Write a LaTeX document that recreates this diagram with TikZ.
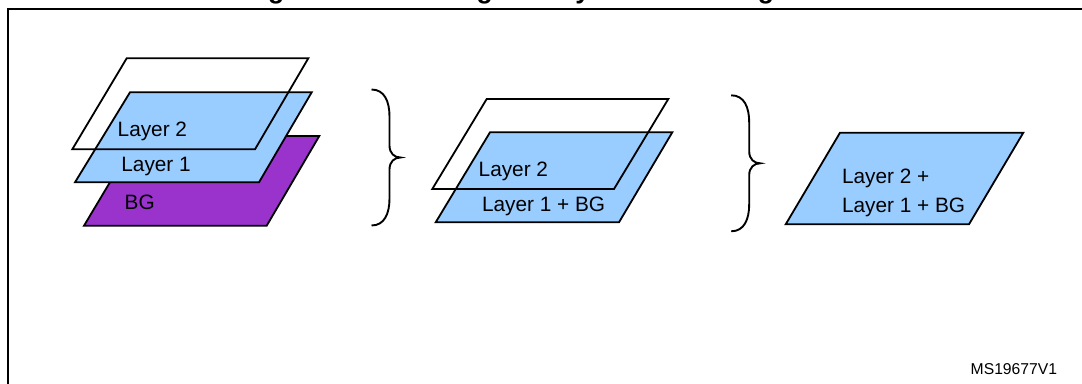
\documentclass[tikz,border=0pt]{standalone}
\usepackage{fontspec}
\setmainfont{Liberation Sans}
\definecolor{layerblue}{HTML}{99CCFF}
\definecolor{bgpurple}{HTML}{9933CC}
\tikzset{
  plane/.style={draw=black, line width=1.8pt, line join=miter},
  lbl/.style={anchor=base west, inner sep=0pt, font=\fontsize{20.8}{25}\selectfont},
  curlybrace/.pic={
    \draw[line width=1.9pt] (-29,-68) .. controls (-16,-68) and (-11,-56) .. (-11,-41)
      -- (-11,-12) .. controls (-11,-4) and (-6,0) .. (0,0)
      .. controls (-6,0) and (-11,4) .. (-11,12)
      -- (-11,41) .. controls (-11,56) and (-16,68) .. (-29,68);
  }
}
\begin{document}
\begin{tikzpicture}[x=1pt,y=-1pt]
\useasboundingbox (0,0) rectangle (1082,383);
\clip (0,0) rectangle (1082,383);
\fill[white] (0,0) rectangle (1082,383);
% title (clipped at the top edge)
\node[anchor=base west, inner sep=0pt, font=\bfseries\fontsize{26.5}{30}\selectfont] (title) at (244.3,-1.6) {Figure 13. Blending two layers with background};
% frame
\draw[line width=1.8pt] (7.7,9.2) rectangle (1095,395);
% stack 1
\draw[plane, fill=bgpurple] (137.6,136) -- (319.3,136) -- (266.7,225.7) -- (84,225.7) -- cycle;
\draw[plane, fill=layerblue] (130,92.3) -- (311.7,92.3) -- (259,182.3) -- (75,182.3) -- cycle;
\draw[plane] (126.7,58.3) -- (308.3,58.3) -- (255,149.3) -- (72.3,149.3) -- cycle;
\node[lbl] (s1l2) at (117.5,136) {Layer 2};
\node[lbl] (s1l1) at (121.2,171.7) {Layer 1};
\node[lbl] (s1bg) at (124.5,209) {BG};
\pic at (400.5,157.5) {curlybrace};
% stack 2
\draw[plane, fill=layerblue] (490,132.3) -- (672.3,132.3) -- (619,222.3) -- (435.7,222.3) -- cycle;
\draw[plane] (486.7,99) -- (668.3,99) -- (614,189) -- (432.3,189) -- cycle;
\node[lbl] (s2l2) at (478.5,176.7) {Layer 2};
\node[lbl] (s2l1) at (481.8,211) {Layer 1 + BG};
\pic at (760.2,163.3) {curlybrace};
% stack 3
\draw[plane, fill=layerblue] (840,132.7) -- (1023.3,132.7) -- (969,224.3) -- (785.7,224.3) -- cycle;
\node[lbl] (s3a) at (841.8,183.3) {Layer 2 +};
\node[lbl] (s3b) at (841.8,212.3) {Layer 1 + BG};
% reference code
\node[anchor=base west, inner sep=0pt, font=\fontsize{15.7}{19}\selectfont] (code) at (970.5,374.3) {MS19677V1};
\end{tikzpicture}
\end{document}
